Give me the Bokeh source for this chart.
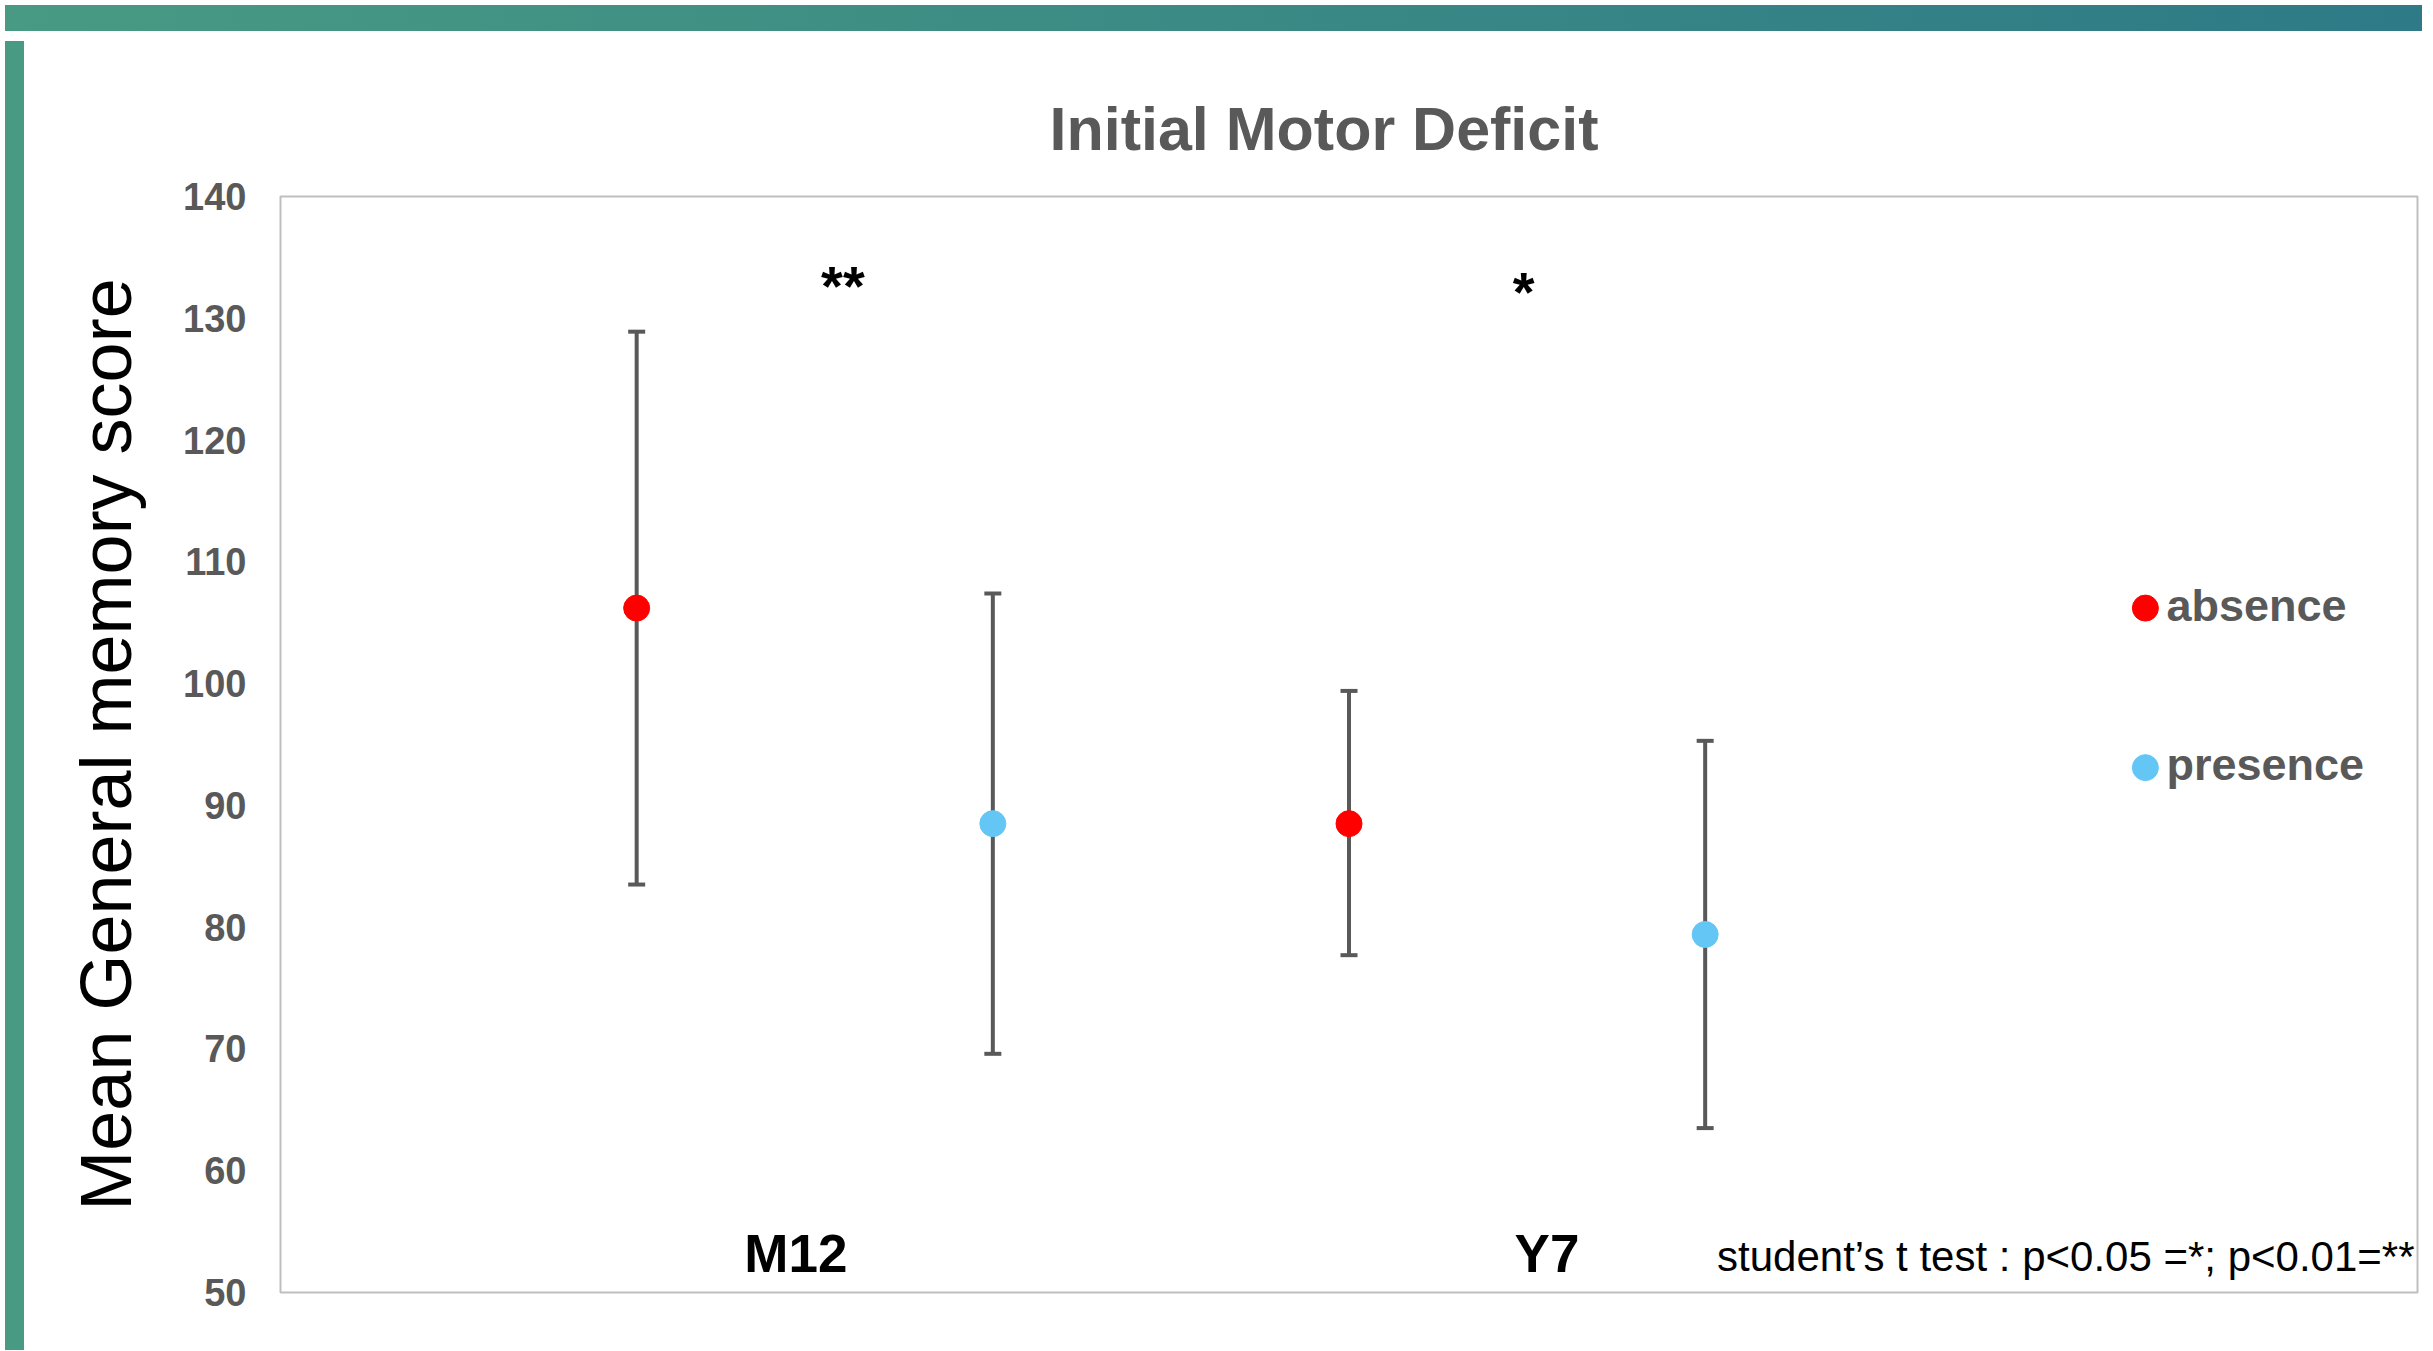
from bokeh.plotting import figure
from bokeh.models import Range1d, Div, Title, FixedTicker
from bokeh.layouts import column, row
from bokeh.embed import file_html
from bokeh.resources import INLINE
from bokeh.core.properties import value

# ---- data ----
groups = ["M12", "Y7"]
conditions = ["absence", "presence"]
cond_colors = ["#ff0000", "#63c6f5"]
mean_score = [106.2, 88.5, 88.5, 79.4]
upper_score = [128.9, 107.4, 99.4, 95.3]
lower_score = [83.5, 69.6, 77.7, 63.5]
significance = ["**", "*"]
y_ticks = [50, 60, 70, 80, 90, 100, 110, 120, 130, 140]
title_text = "Initial Motor Deficit"
y_label = "Mean General memory score"
note_text = "student\u2019s t test : p<0.05 =*; p<0.01=**"

# ---- layout helpers ----
n = len(conditions)
xs = [g * n + c + 1 for g in range(len(groups)) for c in range(n)]
pt_colors = [cond_colors[c] for g in range(len(groups)) for c in range(n)]
group_label_x = [1.447, 3.556]
group_label_y = 51.7
star_x = [1.579, 3.49]
star_y = [131.2, 130.7]
legend_x = 5.236
legend_y = [106.2, 93.1]
TXT_SHIFT = -18  # baseline correction (px)

GRAY = "#595959"
FONT = "Liberation Sans"

p = figure(width=2398, height=1309, x_range=Range1d(0, 6), y_range=Range1d(50, 140),
           output_backend="svg", toolbar_location=None,
           min_border_left=251, min_border_top=160, min_border_right=10, min_border_bottom=53,
           background_fill_color="white", border_fill_color="white")

p.title = Title(text=title_text, align="left", offset=769, text_font_size="61px",
                text_font_style="bold", text_color=GRAY, text_font=FONT, standoff=67)

p.xaxis.visible = False
p.grid.visible = False
p.outline_line_color = "#bfbfbf"
p.outline_line_width = 2

ya = p.yaxis[0]
ya.ticker = FixedTicker(ticks=y_ticks)
ya.axis_line_color = None
ya.major_tick_line_color = None
ya.minor_tick_line_color = None
ya.major_label_standoff = 28
ya.major_label_text_font_size = "38px"
ya.major_label_text_font_style = "bold"
ya.major_label_text_color = GRAY
ya.major_label_text_font = FONT
ya.axis_label = y_label
ya.axis_label_text_font_size = "72px"
ya.axis_label_text_font_style = "normal"
ya.axis_label_text_color = "black"
ya.axis_label_text_font = FONT
ya.axis_label_standoff = 34

# error bars
p.segment(x0=xs, y0=lower_score, x1=xs, y1=upper_score, line_color=GRAY, line_width=4)
p.scatter(x=xs + xs, y=upper_score + lower_score, marker="dash", size=17,
          line_color=GRAY, line_width=4)
# means
p.scatter(x=xs, y=mean_score, size=26, fill_color=pt_colors, line_color=pt_colors)

# group labels
p.text(x=group_label_x, y=[group_label_y] * len(groups), text=groups, text_align="center",
       text_baseline="alphabetic", y_offset=TXT_SHIFT, text_font=value(FONT),
       text_font_style="bold", text_font_size="53px", text_color="black")
# significance stars
p.text(x=star_x, y=star_y, text=significance, text_align="center", text_baseline="alphabetic",
       y_offset=TXT_SHIFT, text_font=value(FONT), text_font_style="bold",
       text_font_size="56px", text_color="black")
# footnote
p.text(x=[6], y=[51.5], text=[note_text], text_align="right", text_baseline="alphabetic",
       x_offset=-3, y_offset=TXT_SHIFT, text_font=value(FONT), text_font_size="42px",
       text_color="black")

# legend (manual)
p.scatter(x=[legend_x] * n, y=legend_y, size=26, fill_color=cond_colors, line_color=cond_colors)
p.text(x=[legend_x] * n, y=legend_y, text=conditions, x_offset=21, y_offset=15 + TXT_SHIFT,
       text_align="left", text_baseline="alphabetic", text_font=value(FONT),
       text_font_style="bold", text_font_size="45px", text_color=GRAY)

banner = Div(text="", width=2417, height=26,
             styles={"background": "linear-gradient(to right, #489a83, #2e7a87)"})
strip = Div(text="", width=19, height=1309, styles={"background": "#489a83"})

layout = column(banner, row(strip, p, spacing=0), spacing=0)

open("out.html", "w").write(file_html(layout, INLINE))
